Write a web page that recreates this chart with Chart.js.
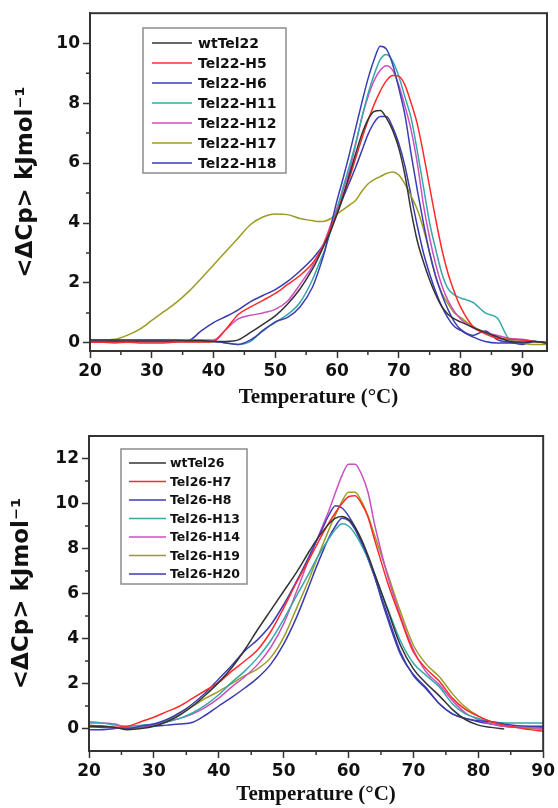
<!DOCTYPE html>
<html>
<head>
<meta charset="utf-8">
<script src="https://cdn.jsdelivr.net/npm/chart.js@4.4.1/dist/chart.umd.min.js"></script>
<style>
  body { margin: 0; background: #fff; }
  canvas { position: absolute; left: 0; }
  #topChart { top: 0; }
  #bottomChart { top: 411px; }
</style>
</head>
<body>
<canvas id="topChart" width="558" height="411"></canvas>
<canvas id="bottomChart" width="558" height="397"></canvas>
<script>
// --- data: top panel (Tel22 family) ---
const tempTop = [20,22,24,26,28,30,32,34,36,38,40,42,44,46,48,50,52,54,56,
  57,58,59,60,61,62,63,64,65,66,67,68,69,70,71,72,73,74,75,76,77,78,79,80,
  82,84,86,88,90,92,94];

const wtTel22 = [0.1,0.1,0.1,0.1,0.1,0.1,0.1,0.1,0.08,0.08,0.05,0.05,0.1,0.35,0.62,0.9,1.3,1.8,2.45,
  2.85,3.3,3.75,4.3,4.9,5.6,6.3,6.95,7.45,7.72,7.75,7.5,7.1,6.5,5.6,4.4,3.4,2.7,2.1,1.6,1.2,0.95,0.8,0.7,
  0.52,0.35,0.2,0.05,0.03,0.05,0];
const tel22H5 = [0.02,0.02,0,0.02,0,0,0,0.03,0.03,0.03,0.05,0.45,0.95,1.2,1.42,1.65,1.95,2.25,2.65,
  2.95,3.35,3.85,4.35,4.95,5.5,6.15,6.8,7.4,7.95,8.4,8.75,8.92,8.9,8.6,8,7.3,6.3,5.2,4.1,3.1,2.3,1.7,1.2,
  0.55,0.3,0.15,0.12,0.1,0.05,0];
const tel22H6 = [0.05,0.05,0.05,0.05,0.05,0.05,0.05,0.05,0.05,0.05,0.05,0,-0.05,0.1,0.4,0.7,0.85,1.2,1.85,
  2.4,3.05,3.9,4.75,5.5,6.3,7.15,8,8.8,9.45,9.9,9.8,9.3,8.5,7.6,6.3,5.1,4,3,2.2,1.6,1.1,0.7,0.45,
  0.2,0.05,0,0,0,0.05,0];
const tel22H11 = [0.05,0.05,0.05,0.05,0.05,0.05,0.05,0.05,0.05,0.05,0.05,0,-0.05,0.05,0.43,0.68,0.95,1.35,2.1,
  2.6,3.1,3.75,4.45,5.2,5.9,6.65,7.5,8.3,8.95,9.45,9.62,9.4,8.9,8.2,7.5,6.4,5.2,4,3.1,2.3,1.8,1.6,1.5,
  1.35,1,0.82,0.12,0.1,0.05,0];
const tel22H12 = [0.08,0.08,0.08,0.08,0.08,0.08,0.08,0.08,0.1,0.1,0.1,0.45,0.8,0.92,1,1.12,1.4,1.95,2.55,
  2.95,3.4,3.95,4.5,5.1,5.75,6.6,7.5,8.2,8.75,9.1,9.25,9.1,8.6,7.9,7.1,6,4.6,3.5,2.6,1.9,1.4,1.05,0.8,
  0.5,0.35,0.25,0.15,0.12,0.05,0];
const tel22H17 = [0.1,0.1,0.12,0.25,0.45,0.75,1.05,1.35,1.72,2.15,2.6,3.05,3.5,3.95,4.2,4.3,4.28,4.15,4.08,
  4.05,4.06,4.15,4.3,4.45,4.6,4.75,5.05,5.3,5.45,5.55,5.65,5.7,5.6,5.3,4.9,4.45,3.8,3,2.2,1.65,1.3,1,0.85,
  0.55,0.35,0.2,0.1,0,-0.05,-0.05];
const tel22H18 = [0.05,0.05,0.05,0.05,0.05,0.05,0.05,0.05,0.08,0.4,0.68,0.88,1.1,1.38,1.58,1.78,2.05,2.4,2.8,
  3.05,3.35,3.8,4.3,4.85,5.35,5.85,6.4,6.95,7.35,7.55,7.55,7.2,6.65,5.9,4.9,3.9,3,2.3,1.7,1.2,0.82,0.55,0.42,
  0.25,0.4,0.1,0.02,-0.05,0.05,0];

const labelsTop = ['wtTel22','Tel22-H5','Tel22-H6','Tel22-H11','Tel22-H12','Tel22-H17','Tel22-H18'];
const seriesTop = [wtTel22, tel22H5, tel22H6, tel22H11, tel22H12, tel22H17, tel22H18];
const xTicksTop = [20,30,40,50,60,70,80,90];
const yTicksTop = [0,2,4,6,8,10];
const xMinorTop = [25,35,45,55,65,75,85];
const yMinorTop = [1,3,5,7,9];

// --- data: bottom panel (Tel26 family) ---
const tempBottom = [20,22,24,26,28,30,32,34,36,38,40,42,44,46,48,50,52,54,
  55,56,57,58,59,60,61,62,63,64,65,66,
  68,70,72,74,76,78,80,82,84,86,88,90];

const wtTel26 = [0.1,0.1,0.05,-0.05,0,0.1,0.3,0.6,1,1.5,2.05,2.7,3.5,4.4,5.25,6.1,6.95,7.9,
  8.35,8.75,9.1,9.35,9.42,9.3,8.95,8.4,7.7,6.9,6.1,5.3,
  3.7,2.65,2,1.45,0.85,0.4,0.15,0.05,-0.02,null,null,null];
const tel26H7 = [0.15,0.1,0.05,0.1,0.3,0.5,0.75,1,1.35,1.7,2.05,2.55,3,3.5,4.3,5.35,6.5,7.55,
  8.1,8.65,9.15,9.6,10,10.3,10.35,10,9.4,8.4,7.45,6.5,
  4.9,3.4,2.65,2.1,1.35,0.85,0.55,0.3,0.15,0.05,-0.05,-0.12];
const tel26H8 = [0.1,0.05,0.05,0,0.1,0.2,0.4,0.7,1.1,1.6,2.2,2.8,3.45,3.95,4.6,5.5,6.55,7.7,
  8.3,8.9,9.5,9.9,9.8,9.45,8.95,8.3,7.6,6.8,5.8,4.9,
  3.3,2.4,1.8,1.1,0.65,0.45,0.35,0.3,0.2,0.12,0.1,0.1];
const tel26H13 = [0.3,0.25,0.15,0.1,0.15,0.2,0.3,0.45,0.7,1.05,1.5,2.05,2.55,3.15,3.9,4.85,5.9,6.95,
  7.5,8,8.45,8.85,9.1,9,8.65,8.15,7.55,6.85,6.1,5.35,
  3.9,2.9,2.35,1.85,1.1,0.65,0.45,0.3,0.25,0.25,0.25,0.25];
const tel26H14 = [0.25,0.25,0.2,0.05,0.05,0.15,0.3,0.45,0.65,0.95,1.35,1.85,2.3,2.85,3.6,4.65,6.1,7.6,
  8.3,9,9.7,10.5,11.25,11.75,11.75,11.3,10.5,9.1,7.9,6.8,
  5,3.5,2.5,1.95,1.25,0.7,0.4,0.2,0.1,0.05,0.05,0];
const tel26H19 = [0.05,0.1,0.05,0.05,0.05,0.15,0.35,0.7,1,1.35,1.65,2,2.35,2.65,3.15,4.05,5.35,6.7,
  7.45,8.15,8.85,9.5,10.1,10.5,10.5,10.1,9.45,8.6,7.75,6.9,
  5.2,3.7,2.85,2.3,1.55,0.95,0.55,0.3,0.15,0.05,0,-0.05];
const tel26H20 = [-0.05,-0.05,0,0.05,0.05,0.1,0.15,0.2,0.28,0.6,1,1.38,1.8,2.25,2.85,3.75,4.95,6.4,
  7.15,7.85,8.5,9,9.35,9.25,8.85,8.25,7.55,6.75,5.9,5.05,
  3.4,2.35,1.75,1.1,0.65,0.45,0.3,0.2,0.1,0.05,0.05,0.05];

const labelsBottom = ['wtTel26','Tel26-H7','Tel26-H8','Tel26-H13','Tel26-H14','Tel26-H19','Tel26-H20'];
const seriesBottom = [wtTel26, tel26H7, tel26H8, tel26H13, tel26H14, tel26H19, tel26H20];
const xTicksBottom = [20,30,40,50,60,70,80,90];
const yTicksBottom = [0,2,4,6,8,10,12];
const xMinorBottom = [25,35,45,55,65,75,85];
const yMinorBottom = [1,3,5,7,9,11];

// same colour order in both panels
const lineColors = ['#333333','#ff2b2b','#3d3db3','#35a8a8','#cc4fc2','#9c9c22','#3b3baf'];

const AXIS = '#333';
const TEXT = '#111';

// minor ticks + closed frame round the plot area
const frameMinor = {
  id: 'frameMinor',
  afterDraw(chart, args, opts) {
    const { ctx, chartArea: a, scales } = chart;
    ctx.save();
    ctx.strokeStyle = AXIS;
    ctx.lineWidth = 1.5;
    ctx.beginPath();
    opts.xMinor.forEach(v => {
      const px = scales.x.getPixelForValue(v);
      ctx.moveTo(px, a.bottom);
      ctx.lineTo(px, a.bottom + 4);
    });
    opts.yMinor.forEach(v => {
      const py = scales.y.getPixelForValue(v);
      ctx.moveTo(a.left - 4, py);
      ctx.lineTo(a.left, py);
    });
    ctx.stroke();
    ctx.lineWidth = 2;
    ctx.strokeRect(a.left, a.top, a.right - a.left, a.bottom - a.top);
    ctx.restore();
  }
};

// legend drawn as a boxed list inside the plot
const boxLegend = {
  id: 'boxLegend',
  afterDatasetsDraw(chart, args, o) {
    const ctx = chart.ctx;
    ctx.save();
    ctx.fillStyle = '#fff';
    ctx.fillRect(o.x, o.y, o.w, o.h);
    ctx.strokeStyle = '#8c8c8c';
    ctx.lineWidth = 1.5;
    ctx.strokeRect(o.x, o.y, o.w, o.h);
    ctx.font = 'bold ' + o.fontSize + 'px "DejaVu Sans"';
    ctx.textBaseline = 'middle';
    ctx.textAlign = 'left';
    chart.data.datasets.forEach((ds, i) => {
      const cy = o.row0 + i * o.rowH;
      ctx.strokeStyle = ds.borderColor;
      ctx.lineWidth = 1.5;
      ctx.beginPath();
      ctx.moveTo(o.lineX0, cy);
      ctx.lineTo(o.lineX1, cy);
      ctx.stroke();
      ctx.fillStyle = TEXT;
      ctx.fillText(ds.label, o.textX, cy + 1);
    });
    ctx.restore();
  }
};

function buildChart(id, o) {
  const gridOpts = { display: true, drawOnChartArea: false, drawTicks: true,
    tickLength: 7, tickWidth: 1.5, tickColor: AXIS };
  const borderOpts = { display: true, color: AXIS, width: 2 };
  const tickFont = { family: 'DejaVu Sans', weight: 'bold', size: 17 };

  return new Chart(document.getElementById(id), {
    type: 'line',
    data: {
      datasets: o.labels.map((lab, i) => ({
        label: lab,
        data: o.temps.map((t, j) => ({ x: t, y: o.series[i][j] })),
        borderColor: lineColors[i],
        borderWidth: 1.5,
        pointRadius: 0,
        fill: false,
        spanGaps: false,
        cubicInterpolationMode: 'monotone'
      }))
    },
    options: {
      responsive: false,
      animation: false,
      layout: { padding: o.padding },
      plugins: {
        legend: { display: false },
        tooltip: { enabled: false },
        boxLegend: o.legendBox,
        frameMinor: { xMinor: o.xMinor, yMinor: o.yMinor }
      },
      scales: {
        x: {
          type: 'linear', min: o.xMin, max: o.xMax,
          afterBuildTicks: s => { s.ticks = o.xTicks.map(v => ({ value: v })); },
          afterFit: s => { s.height = o.xHeight; },
          grid: gridOpts, border: borderOpts,
          ticks: { font: tickFont, color: TEXT, padding: 3, maxRotation: 0, autoSkip: false },
          title: { display: true, text: 'Temperature (°C)', color: TEXT, padding: { top: 0, bottom: 2.5 },
            font: { family: 'Liberation Serif', weight: 'bold', size: 21, lineHeight: 1 } }
        },
        y: {
          type: 'linear', min: o.yMin, max: o.yMax,
          afterBuildTicks: s => { s.ticks = o.yTicks.map(v => ({ value: v })); },
          afterFit: s => { s.width = o.yWidth; },
          grid: gridOpts, border: borderOpts,
          ticks: { font: tickFont, color: TEXT, padding: 3, autoSkip: false },
          title: { display: true, text: '<ΔCp> kJmol⁻¹', color: TEXT, padding: { top: o.yTitlePad, bottom: 0 },
            font: { family: 'DejaVu Sans', weight: 'bold', size: 23, lineHeight: 1 } }
        }
      }
    },
    plugins: [frameMinor, boxLegend]
  });
}

buildChart('topChart', {
  labels: labelsTop, series: seriesTop, temps: tempTop,
  xMin: 20, xMax: 94, yMin: -0.27, yMax: 11,
  xTicks: xTicksTop, yTicks: yTicksTop, xMinor: xMinorTop, yMinor: yMinorTop,
  padding: { left: 0, right: 11, top: 13, bottom: 0 },
  yWidth: 90, xHeight: 60, yTitlePad: 15,
  legendBox: { x: 143, y: 28, w: 143, h: 145, row0: 43, rowH: 20,
    lineX0: 152, lineX1: 192, textX: 198, fontSize: 14 }
});

buildChart('bottomChart', {
  labels: labelsBottom, series: seriesBottom, temps: tempBottom,
  xMin: 20, xMax: 90, yMin: -1, yMax: 13,
  xTicks: xTicksBottom, yTicks: yTicksBottom, xMinor: xMinorBottom, yMinor: yMinorBottom,
  padding: { left: 0, right: 11, top: 25, bottom: 0 },
  yWidth: 89, xHeight: 57, yTitlePad: 11,
  legendBox: { x: 121, y: 38, w: 126, h: 135, row0: 52, rowH: 18.5,
    lineX0: 129, lineX1: 166, textX: 170, fontSize: 12.5 }
});
</script>
</body>
</html>
